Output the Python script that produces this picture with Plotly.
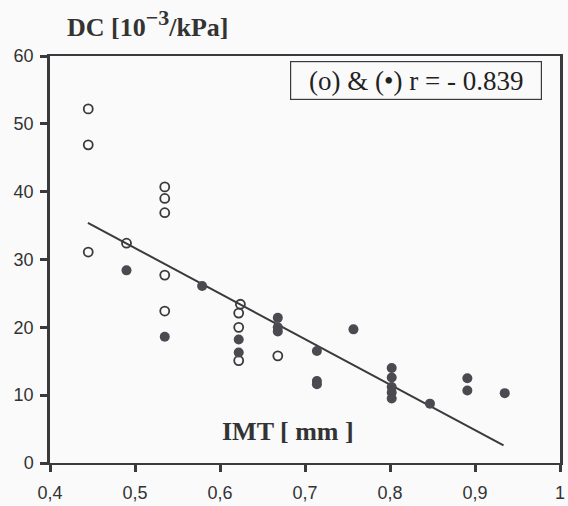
import plotly.graph_objects as go

# open circles (o)
open_x = [0.445, 0.445, 0.445, 0.49, 0.535, 0.535, 0.535, 0.535, 0.535,
          0.624, 0.622, 0.622, 0.622, 0.668]
open_y = [52.2, 46.9, 31.1, 32.4, 40.7, 39.0, 36.9, 27.7, 22.4,
          23.4, 22.1, 20.0, 15.1, 15.8]

# filled circles (•)
filled_x = [0.49, 0.535, 0.579, 0.622, 0.622, 0.668, 0.668, 0.668, 0.714, 0.714, 0.714,
            0.757, 0.802, 0.802, 0.802, 0.802, 0.802, 0.847, 0.891, 0.891, 0.935]
filled_y = [28.4, 18.6, 26.1, 18.2, 16.3, 21.4, 20.0, 19.4, 16.5, 12.1, 11.6,
            19.7, 14.0, 12.6, 11.2, 10.4, 9.5, 8.75, 12.5, 10.7, 10.3]

# regression line end points
line_x = [0.4446, 0.9336]
line_y = [35.4, 2.6]

x_ticks = [0.4, 0.5, 0.6, 0.7, 0.8, 0.9, 1.0]
x_tick_labels = ["0,4", "0,5", "0,6", "0,7", "0,8", "0,9", "1"]
y_ticks = [0, 10, 20, 30, 40, 50, 60]

ink = "#3a3a3e"

fig = go.Figure()
fig.add_trace(go.Scatter(x=line_x, y=line_y, mode="lines",
                         line=dict(color=ink, width=2), showlegend=False))
fig.add_trace(go.Scatter(x=open_x, y=open_y, mode="markers",
                         marker=dict(symbol="circle-open", size=9, color=ink,
                                     line=dict(width=1.8, color=ink)),
                         showlegend=False))
fig.add_trace(go.Scatter(x=filled_x, y=filled_y, mode="markers",
                         marker=dict(symbol="circle", size=10, color="#4a4a50"),
                         showlegend=False))

fig.update_layout(
    width=568, height=506,
    margin=dict(l=50, r=3, t=56, b=41),
    paper_bgcolor="#fafafa", plot_bgcolor="#fafafa",
    xaxis=dict(range=[0.4, 1.0], tickvals=x_ticks, ticktext=x_tick_labels,
               showgrid=False, zeroline=False, showline=True, mirror=True,
               linecolor=ink, linewidth=2, ticks="outside", ticklen=7,
               tickwidth=3, tickcolor=ink, ticklabelstandoff=5,
               tickfont=dict(family="Liberation Sans, Arial", size=18, color="#333")),
    yaxis=dict(range=[0, 60], tickvals=y_ticks,
               showgrid=False, zeroline=False, showline=True, mirror=True,
               linecolor=ink, linewidth=2.5, ticks="outside", ticklen=7,
               tickwidth=3, tickcolor=ink, ticklabelstandoff=3,
               tickfont=dict(family="Liberation Sans, Arial", size=18, color="#333")),
    annotations=[
        dict(text="<b>DC [10<sup><span style='font-size:22px'>−3</span></sup>/kPa]</b>",
             xref="paper", yref="paper",
             x=15/515, y=1.0, xanchor="left", yanchor="bottom",
             yshift=12, showarrow=False,
             font=dict(family="Liberation Serif, Times New Roman", size=26, color="#333")),
        dict(text="<b>IMT [ mm ]</b>", x=0.68, y=4.6, xref="x", yref="y",
             showarrow=False,
             font=dict(family="Liberation Serif, Times New Roman", size=26, color="#333")),
        dict(text="(o) &amp; (•) r = - 0.839", x=0.831, y=56.4, xref="x", yref="y",
             showarrow=False, bordercolor=ink, borderwidth=1.2, borderpad=2,
             width=246, height=33,
             font=dict(family="Liberation Serif, Times New Roman", size=27, color="#222")),
    ],
)

fig.write_html("out.html")
